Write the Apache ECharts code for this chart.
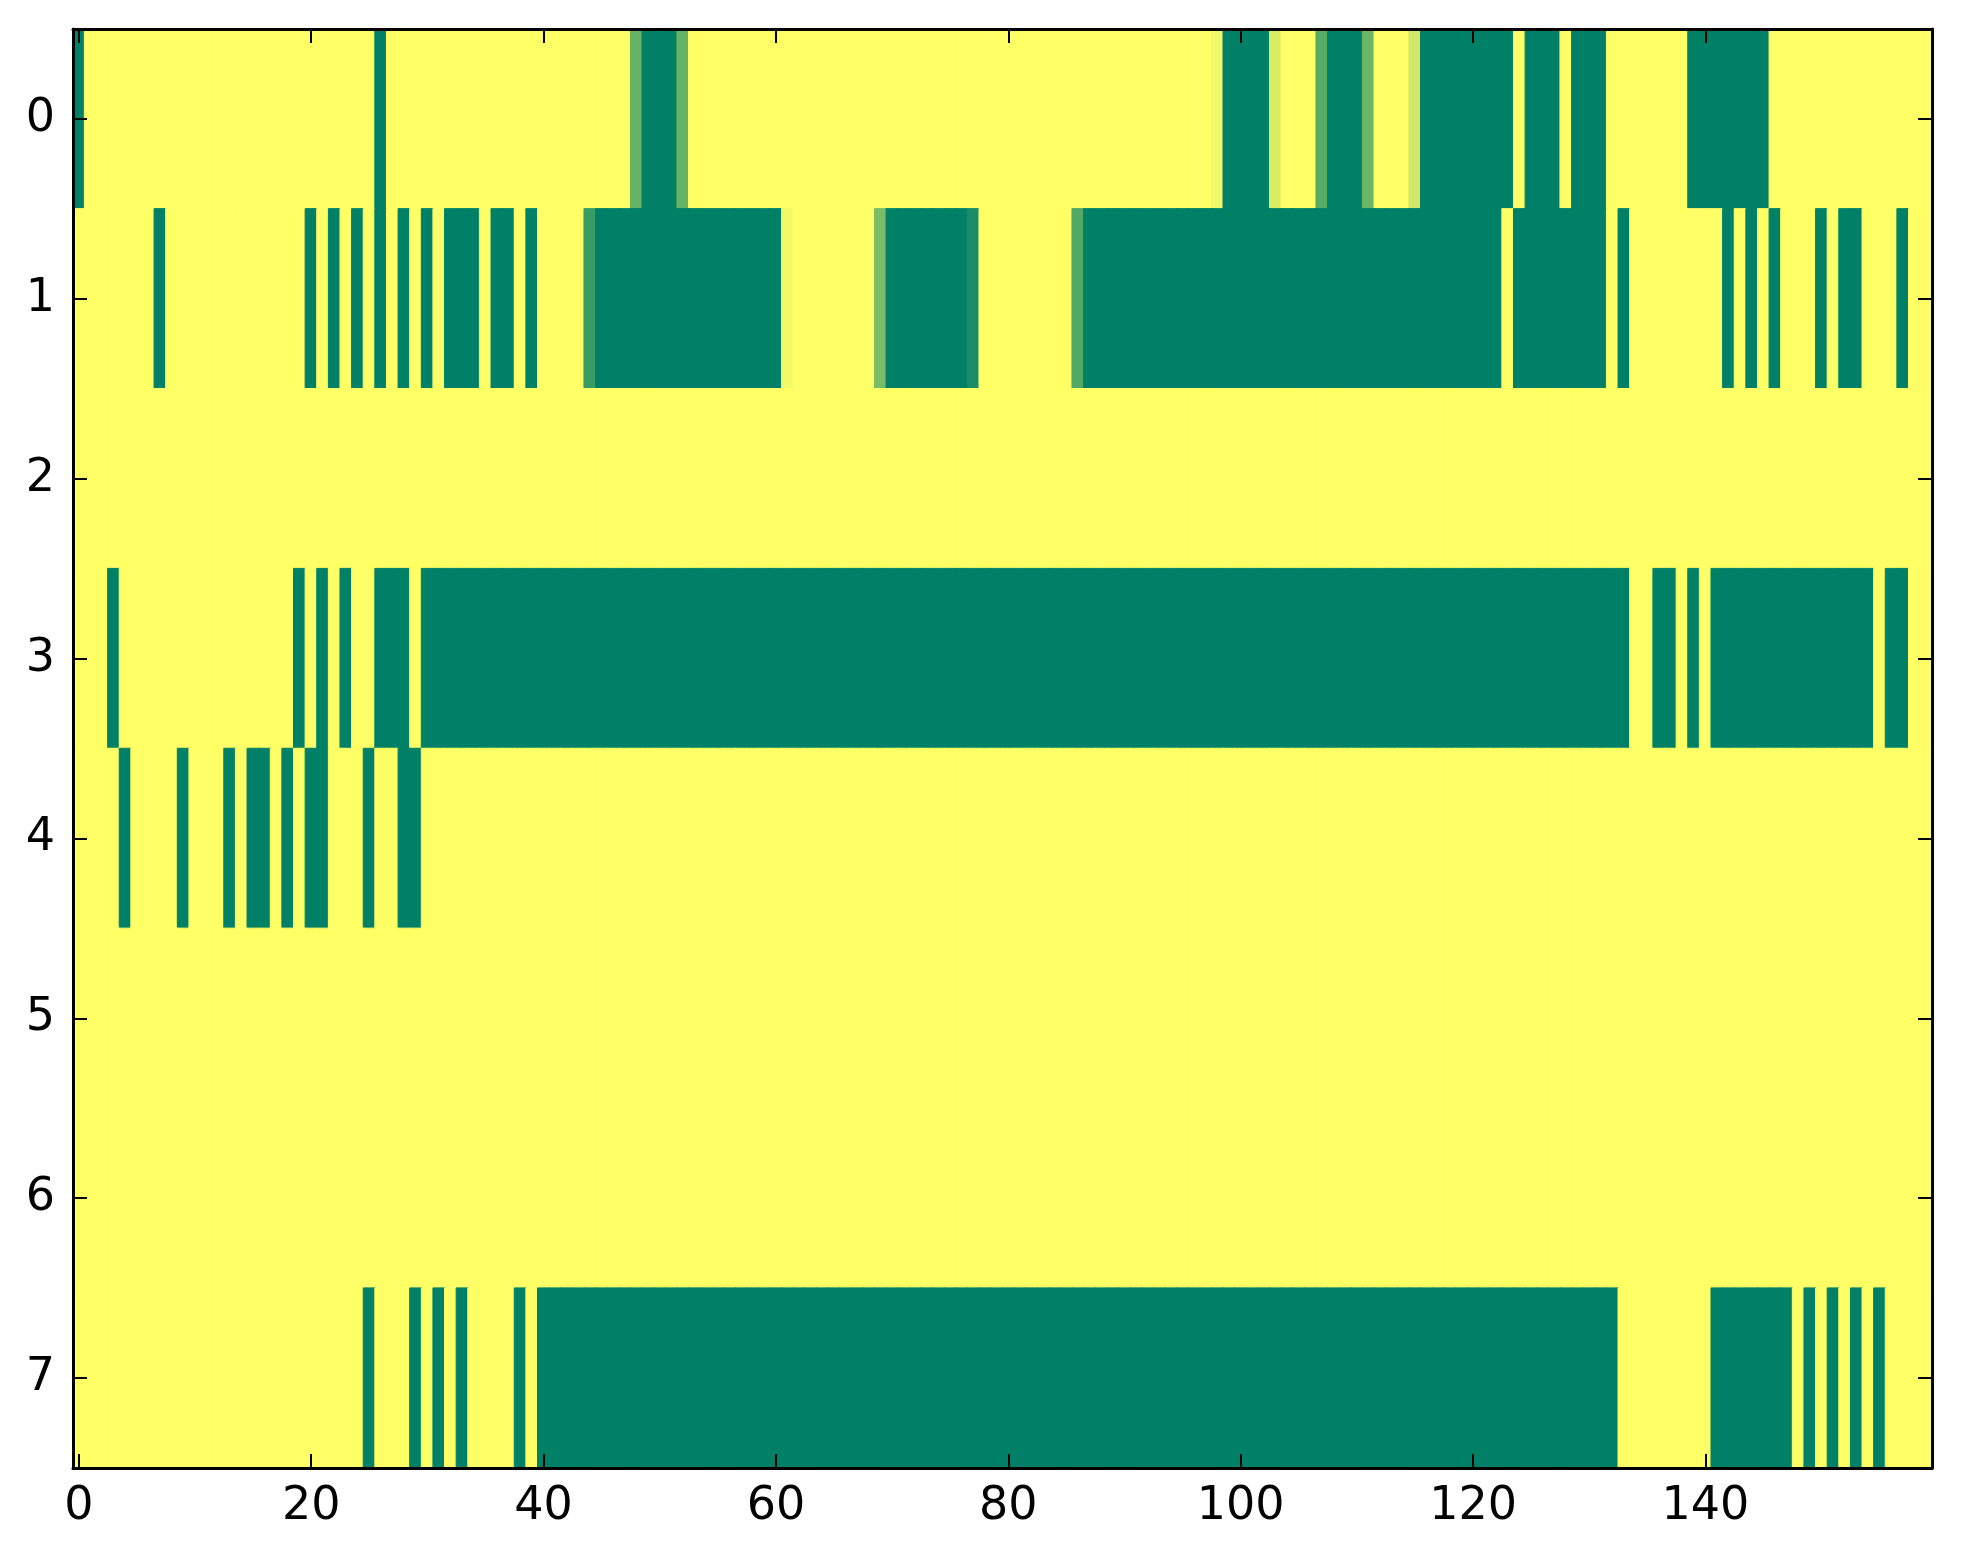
<!DOCTYPE html>
<html>
<head>
<meta charset="utf-8">
<script src="https://cdn.jsdelivr.net/npm/echarts@6/dist/echarts.min.js"></script>
<style>
  html, body { margin: 0; padding: 0; background: #fff; }
  #chart { width: 1963px; height: 1564px; }
</style>
</head>
<body>
<div id="chart"></div>
<script>
// column and row categories
const columns = [];
for (let i = 0; i < 160; i++) columns.push(String(i));
const rows = ['0', '1', '2', '3', '4', '5', '6', '7'];

// each row as runs of [value, count] left to right
// 1 = yellow end of the colormap, 0 = green end
const row0 = [[0,1],[1,25],[0,1],[1,21],[0.4,1],[0,3],[0.4,1],[1,45],[0.95,1],[0,4],[0.85,1],[1,3],
  [0.35,1],[0,3],[0.42,1],[1,3],[0.82,1],[0,8],[1,1],[0,3],[1,1],[0,3],[1,7],[0,7],[1,14]];
const row1 = [[1,7],[0,1],[1,12],[0,1],[1,1],[0,1],[1,1],[0,1],[1,1],[0,1],[1,1],[0,1],[1,1],[0,1],[1,1],
  [0,3],[1,1],[0,2],[1,1],[0,1],[1,4],[0.22,1],[0,16],[0.95,1],[1,7],[0.48,1],[0,7],[0.1,1],[1,8],
  [0.32,1],[0,36],[1,1],[0,8],[1,1],[0,1],[1,8],[0,1],[1,1],[0,1],[1,1],[0,1],[1,3],[0,1],[1,1],
  [0,2],[1,3],[0,1],[1,2]];
const row2 = [[1,160]];
const row3 = [[1,3],[0,1],[1,15],[0,1],[1,1],[0,1],[1,1],[0,1],[1,2],[0,3],[1,1],[0,104],[1,2],[0,2],
  [1,1],[0,1],[1,1],[0,14],[1,1],[0,2],[1,2]];
const row4 = [[1,4],[0,1],[1,4],[0,1],[1,3],[0,1],[1,1],[0,2],[1,1],[0,1],[1,1],[0,2],[1,3],[0,1],
  [1,2],[0,2],[1,130]];
const row5 = [[1,160]];
const row6 = [[1,160]];
const row7 = [[1,25],[0,1],[1,3],[0,1],[1,1],[0,1],[1,1],[0,1],[1,4],[0,1],[1,1],[0,93],[1,8],[0,7],
  [1,1],[0,1],[1,1],[0,1],[1,1],[0,1],[1,1],[0,1],[1,4]];
const allRows = [row0, row1, row2, row3, row4, row5, row6, row7];

const xTickLabels = ['0', '20', '40', '60', '80', '100', '120', '140'];

// summer colormap ends (rgb)
const lowRGB = [0, 128, 102];
const highRGB = [255, 255, 102];

function summer(v) {
  const c = lowRGB.map((a, i) => Math.round(a + (highRGB[i] - a) * v));
  return 'rgb(' + c.join(',') + ')';
}

const cells = [];
allRows.forEach((runs, r) => {
  let c = 0;
  runs.forEach(([v, n]) => {
    for (let k = 0; k < n; k++) {
      const col = summer(v);
      // border in the same colour hides the hairline seams between cells
      cells.push({ value: [c, r, v], itemStyle: { color: col, borderColor: col, borderWidth: 1 } });
      c++;
    }
  });
});

const font = 'DejaVu Sans';
const lineStyle = { color: '#000', width: 3 };
const tickStyle = { color: '#000', width: 2 };

function xAxisOf(position, showLabel) {
  return {
    type: 'category',
    data: columns,
    position: position,
    z: 10,
    boundaryGap: true,
    axisLine: { show: true, onZero: false, lineStyle: lineStyle },
    axisTick: { show: true, inside: true, length: 14, alignWithLabel: true,
      interval: (i, v) => xTickLabels.indexOf(v) >= 0, lineStyle: tickStyle },
    axisLabel: { show: showLabel, margin: 16, color: '#000', fontSize: 46, fontFamily: font,
      interval: (i, v) => xTickLabels.indexOf(v) >= 0 },
    splitLine: { show: false }
  };
}

function yAxisOf(position, showLabel) {
  return {
    type: 'category',
    data: rows,
    inverse: true,
    position: position,
    z: 10,
    boundaryGap: true,
    axisLine: { show: true, onZero: false, lineStyle: lineStyle },
    axisTick: { show: true, inside: true, length: 14, alignWithLabel: true, interval: 0, lineStyle: tickStyle },
    axisLabel: { show: showLabel, margin: 18, color: '#000', fontSize: 46, fontFamily: font, interval: 0 },
    splitLine: { show: false }
  };
}

const chart = echarts.init(document.getElementById('chart'), null, { renderer: 'canvas' });
chart.setOption({
  animation: false,
  backgroundColor: '#fff',
  grid: { left: 73, right: 31, top: 29, bottom: 96, containLabel: false },
  xAxis: [xAxisOf('bottom', true), xAxisOf('top', false)],
  yAxis: [yAxisOf('left', true), yAxisOf('right', false)],
  series: [{
    type: 'heatmap',
    xAxisIndex: 0,
    yAxisIndex: 0,
    data: cells,
    emphasis: { disabled: true },
    progressive: 0
  }]
});
</script>
</body>
</html>
